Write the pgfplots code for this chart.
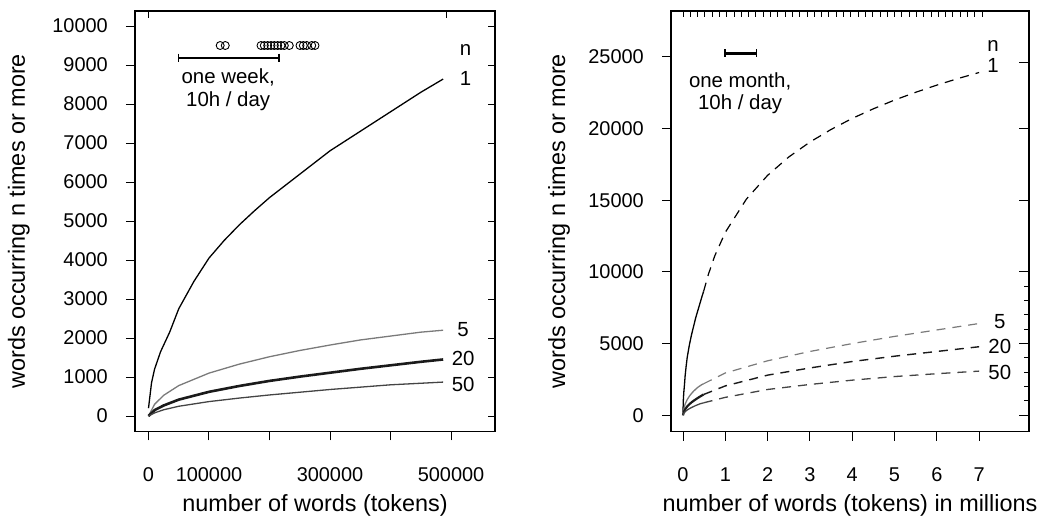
\documentclass[border=0pt]{standalone}
\usepackage{fontspec}
\setmainfont{Liberation Sans}
\usepackage{pgfplots}
\pgfplotsset{compat=1.18}
\definecolor{cfive}{HTML}{7A7A7A}
\definecolor{ctwenty}{HTML}{1A1A1A}
\definecolor{cfifty}{HTML}{444444}

\pgfplotsset{
  rpanel/.style={
    scale only axis, clip=false,
    axis line style={line width=1.5bp},
    tick style={line width=1bp,black},
    tick align=outside, xtick pos=left, ytick pos=left,
    major tick length=9bp,
    /pgf/number format/assume math mode=true,
    /pgf/number format/1000 sep={},
    scaled ticks=false,
    tick label style={font=\fontsize{20}{22}\selectfont},
    label style={font=\fontsize{23.5}{26}\selectfont},
    xticklabel style={anchor=base, yshift=-40.5bp},
    xlabel style={at={(axis description cs:0.5,-0.1914)}, anchor=base},
  },
  rticks/.style={
    scale only axis, scaled ticks=false,
    axis line style={line width=1.5bp},
    tick style={line width=1bp,black},
    tick align=inside, xticklabels={}, yticklabels={},
  },
}
\tikzset{lab/.style={font=\fontsize{20.5}{23}\selectfont}}

\begin{document}
\begin{tikzpicture}
\useasboundingbox (0,0) rectangle (1039bp,520bp);

% ---------------- left panel ----------------
\begin{axis}[rpanel,
  at={(135bp,88.5bp)}, anchor=south west, width=360bp, height=420.5bp,
  xmin=-22300, xmax=572700, ymin=-397, ymax=10385,
  xtick={0,100000,200000,300000,400000,500000},
  xticklabels={0,100000,,300000,,500000},
  ytick={0,1000,...,10000},
  yticklabel style={anchor=east, inner sep=0pt, xshift=-18bp},
  xlabel={number of words (tokens)},
  ylabel={words occurring n times or more},
  ylabel style={at={(axis description cs:-0.3056,0.5)}, anchor=base},
]
\addplot[black, line width=1.3bp] coordinates {
 (0,200) (5000,850) (10000,1200) (20000,1650) (35000,2150) (50000,2750)
 (75000,3450) (100000,4050) (125000,4500) (150000,4900) (175000,5260)
 (200000,5600) (225000,5900) (250000,6200) (275000,6500) (300000,6800)
 (325000,7050) (350000,7300) (375000,7550) (400000,7800) (425000,8050)
 (450000,8300) (487000,8640)};
\addplot[cfive, line width=1.3bp] coordinates {
 (0,0) (10000,300) (25000,530) (50000,780) (100000,1100) (150000,1330)
 (200000,1520) (250000,1680) (300000,1820) (350000,1950) (400000,2050)
 (450000,2150) (487000,2200)};
\addplot[ctwenty, line width=2.6bp] coordinates {
 (0,0) (10000,150) (25000,270) (50000,420) (100000,620) (150000,770)
 (200000,900) (250000,1010) (300000,1110) (350000,1210) (400000,1300)
 (450000,1390) (487000,1450)};
\addplot[cfifty, line width=1.3bp] coordinates {
 (0,0) (10000,80) (25000,160) (50000,250) (100000,370) (150000,460)
 (200000,540) (250000,610) (300000,680) (350000,740) (400000,800)
 (450000,840) (487000,870)};
% corpus sizes and one-week span
\addplot[only marks, mark=o, mark size=4bp, mark options={line width=0.9bp, black}] coordinates {
 (118500,9500) (126900,9500) (186000,9500) (191400,9500) (197000,9500)
 (202500,9500) (208000,9500) (213500,9500) (219000,9500) (224500,9500)
 (232700,9500) (250400,9500) (255900,9500) (261500,9500) (269800,9500)
 (275200,9500)};
\addplot[black, line width=2.2bp, mark=|, mark size=4bp, mark options={line width=1.2bp}] coordinates {
 (49300,9187) (215700,9187)};
\node[lab] at (axis cs:131700,8690) {one week,};
\node[lab] at (axis cs:131700,8080) {10h / day};
\node[lab] at (axis cs:524000,9385) {n};
\node[lab] at (axis cs:524000,8654) {1};
\node[lab] at (axis cs:520000,2220) {5};
\node[lab] at (axis cs:520000,1480) {20};
\node[lab] at (axis cs:520000,800) {50};
\end{axis}
\begin{axis}[rticks,
  at={(135bp,88.5bp)}, anchor=south west, width=360bp, height=420.5bp,
  xmin=-22300, xmax=572700, ymin=-397, ymax=10385,
  axis x line*=top, axis y line*=right,
  xtick={0,493000}, ytick={0,1000,...,10000}, major tick length=7.5bp,
]
\end{axis}

% ---------------- right panel ----------------
\begin{axis}[rpanel,
  at={(671bp,88.5bp)}, anchor=south west, width=358bp, height=420.5bp,
  xmin=-0.284, xmax=8.18, ymin=-1130, ymax=28190,
  xtick={0,1,...,7},
  ytick={0,5000,...,25000},
  yticklabel style={anchor=east, inner sep=0pt, xshift=-18bp},
  xlabel={number of words (tokens) in millions},
  ylabel={words occurring n times or more},
  ylabel style={at={(axis description cs:-0.296,0.5)}, anchor=base},
]
\addplot[black, line width=1.3bp] coordinates {
 (0,200) (0.005,850) (0.01,1200) (0.02,1650) (0.035,2150) (0.05,2750)
 (0.075,3450) (0.1,4050) (0.15,4900) (0.2,5600) (0.25,6200) (0.3,6800)
 (0.35,7300) (0.4,7800) (0.45,8300) (0.487,8640)};
\addplot[cfive, line width=1.3bp] coordinates {
 (0,0) (0.01,300) (0.025,530) (0.05,780) (0.1,1100) (0.15,1330) (0.2,1520)
 (0.25,1680) (0.3,1820) (0.35,1950) (0.4,2050) (0.45,2150) (0.487,2200)};
\addplot[ctwenty, line width=2.2bp] coordinates {
 (0,0) (0.01,150) (0.025,270) (0.05,420) (0.1,620) (0.15,770) (0.2,900)
 (0.25,1010) (0.3,1110) (0.35,1210) (0.4,1300) (0.45,1390) (0.487,1450)};
\addplot[cfifty, line width=1.3bp] coordinates {
 (0,0) (0.01,80) (0.025,160) (0.05,250) (0.1,370) (0.15,460) (0.2,540)
 (0.25,610) (0.3,680) (0.35,740) (0.4,800) (0.45,840) (0.487,870)};
% extrapolations
\addplot[black, line width=1.2bp, dash pattern=on 9bp off 7bp] coordinates {
 (0.487,8640) (0.6,9830) (0.75,11110) (1,12760) (1.5,15080) (2,16730)
 (2.5,18010) (3,19050) (3.5,19930) (4,20700) (4.5,21370) (5,21980)
 (5.5,22520) (6,23020) (6.5,23480) (7,23900)};
\addplot[cfive, line width=1.2bp, dash pattern=on 9bp off 7bp] coordinates {
 (0.487,2200) (1,2950) (2,3800) (3,4450) (4,5000) (5,5500) (6,5950) (7,6400)};
\addplot[ctwenty, line width=1.4bp, dash pattern=on 9bp off 7bp] coordinates {
 (0.487,1450) (1,2050) (2,2800) (3,3300) (4,3750) (5,4120) (6,4450) (7,4780)};
\addplot[cfifty, line width=1.3bp, dash pattern=on 9bp off 7bp] coordinates {
 (0.487,870) (1,1250) (2,1800) (3,2150) (4,2450) (5,2700) (6,2900) (7,3080)};
\addplot[black, line width=2.2bp, mark=|, mark size=4bp, mark options={line width=1.2bp}] coordinates {
 (0.993,25230) (1.742,25230)};
\node[lab] at (axis cs:1.35,23300) {one month,};
\node[lab] at (axis cs:1.35,21700) {10h / day};
\node[lab] at (axis cs:7.33,25750) {n};
\node[lab] at (axis cs:7.33,24360) {1};
\node[lab] at (axis cs:7.49,6500) {5};
\node[lab] at (axis cs:7.49,4830) {20};
\node[lab] at (axis cs:7.49,3020) {50};
\end{axis}
\begin{axis}[rticks,
  at={(671bp,88.5bp)}, anchor=south west, width=358bp, height=420.5bp,
  xmin=-0.284, xmax=8.18, ymin=-1130, ymax=28190,
  axis x line*=top, axis y line=none,
  xtick={0,0.1725,...,7.08}, major tick length=6bp,
]
\end{axis}
\begin{axis}[rticks,
  at={(671bp,88.5bp)}, anchor=south west, width=358bp, height=420.5bp,
  xmin=-0.284, xmax=8.18, ymin=-1130, ymax=28190,
  axis y line*=right, axis x line=none,
  ytick={0,5000,10000,15000,20000,24600},
  minor ytick={1000,2000,3000,4000,6000,7000,8000,9000},
  major tick length=10bp, minor tick length=5bp,
]
\end{axis}
\end{tikzpicture}
\end{document}
